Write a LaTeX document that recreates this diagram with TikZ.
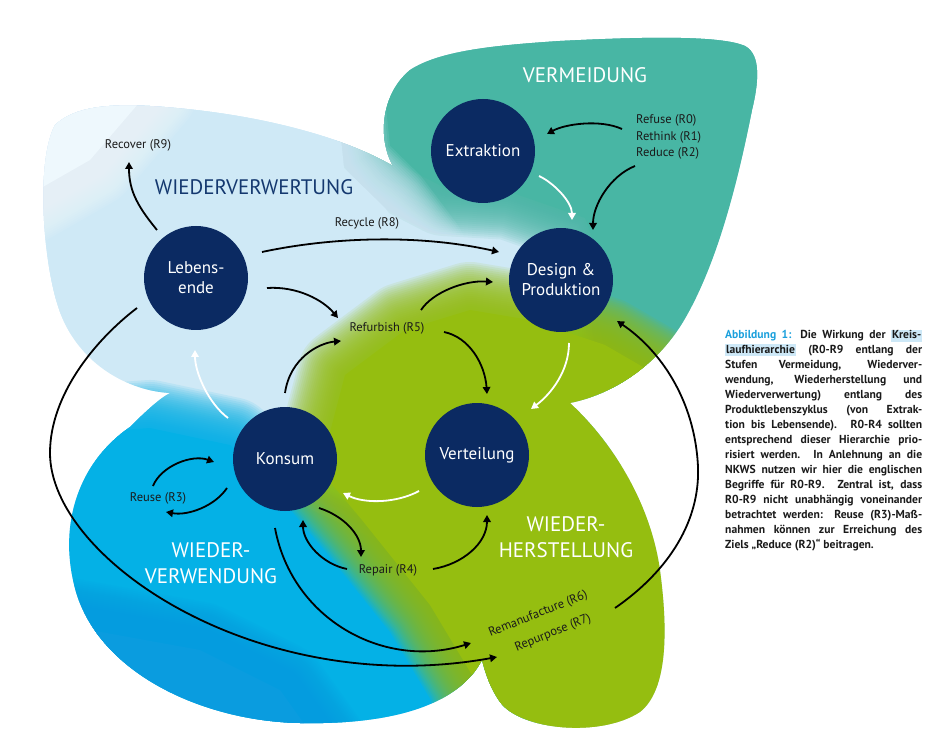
\documentclass[tikz,border=0pt]{standalone}
\usepackage{fontspec}
\setmainfont{PT Sans}
\newfontfamily\capfont{PT Sans}
\usetikzlibrary{arrows.meta,calc}
\definecolor{navy}{HTML}{0B2A62}
\definecolor{teal1}{HTML}{48B6A4}
\definecolor{lblue}{HTML}{CFE9F6}
\definecolor{wblue}{HTML}{EEF8FD}
\definecolor{cblue}{HTML}{04B1E6}
\definecolor{dblue}{HTML}{0A9CDF}
\definecolor{lgreen}{HTML}{95BE10}
\definecolor{capblue}{HTML}{1BA0DC}
\definecolor{hlblue}{HTML}{CDE8F7}
\definecolor{regnavy}{HTML}{14386F}
\definecolor{txt}{HTML}{1A1A1A}
\newcommand\unionpath{(55,125) .. controls (75,106) and (110,104) .. (150,106)
 .. controls (250,112) and (340,135) .. (393,166)
 .. controls (378,140) and (380,95) .. (410,70)
 .. controls (440,50) and (500,45) .. (560,41)
 .. controls (640,37) and (720,35) .. (745,46)
 .. controls (762,55) and (758,85) .. (752,110)
 .. controls (740,170) and (720,260) .. (683,322)
 .. controls (655,368) and (610,395) .. (570,403)
 .. controls (610,440) and (650,500) .. (660,570)
 .. controls (668,630) and (668,690) .. (640,712)
 .. controls (600,738) and (520,730) .. (500,702)
 .. controls (490,688) and (485,672) .. (482,660)
 .. controls (460,702) and (400,725) .. (300,723)
 .. controls (200,721) and (100,672) .. (76,592)
 .. controls (58,530) and (75,465) .. (130,427)
 .. controls (145,412) and (160,398) .. (170,393)
 .. controls (130,391) and (80,366) .. (60,312)
 .. controls (42,262) and (36,160) .. (55,125) -- cycle}
\newcommand\softfill[2]{%
  \foreach \w in {96,92,...,4}{\draw[#1,opacity=0.1,line width=\w pt,line join=round] #2;}%
  \fill[#1] #2;}
\newcommand\hl[1]{{\setlength\fboxsep{1pt}\colorbox{hlblue}{\rule[-1.5pt]{0pt}{10pt}#1}}}
\begin{document}
\begin{tikzpicture}[x=1pt,y=-1pt,
  circ/.style={circle,fill=navy,minimum size=104pt,inner sep=0pt,text=white,
    font=\fontsize{17}{20}\selectfont,align=center},
  lbl/.style={font=\fontsize{12.5}{15}\selectfont,text=txt,inner sep=0pt},
  regionlbl/.style={font=\fontsize{21}{26}\selectfont,inner sep=0pt,align=center},
  arr/.style={line width=1.8pt,-{Triangle[length=7pt,width=7.5pt]}},
  warr/.style={arr,white}]
\useasboundingbox (0,0) rectangle (948,735);
% background blobs
\begin{scope}
\clip \unionpath;
\fill[lblue] (0,0) rectangle (948,735);
\softfill{teal1}{(370,20) -- (780,20) -- (780,450) -- (620,420) -- (600,330) -- (600,260) -- (585,218) -- (510,192) -- (445,188) -- (395,162) -- (383,140) -- cycle}
\softfill{lblue}{(-10,90) -- (336,90) -- (344,168) -- (385,208) -- (418,252) -- (330,300) -- (-10,300) -- cycle}
\softfill{wblue}{(20,90) -- (150,90) -- (90,160) -- (20,200) -- cycle}
\softfill{cblue}{(-20,440) -- (150,428) -- (230,445) -- (290,500) -- (420,560) -- (520,760) -- (-20,760) -- cycle}
\softfill{dblue}{(-20,610) -- (200,650) -- (280,690) -- (330,760) -- (-20,760) -- cycle}
\softfill{lgreen}{(345,375) -- (405,330) -- (470,310) -- (530,320) -- (605,345) -- (700,400) -- (720,760) -- (495,760) -- (475,680) -- (430,605) -- (362,520) -- (320,470) -- cycle}
\end{scope}
% region labels
\node[regionlbl,text=white] (vm) at (585,75) {VERMEIDUNG};
\node[regionlbl,text=regnavy] (wvw) at (254,187) {WIEDERVERWERTUNG};
\node[regionlbl,text=white] (wvd) at (211,563) {WIEDER-\\VERWENDUNG};
\node[regionlbl,text=white] (whs) at (566,537) {WIEDER-\\HERSTELLUNG};
% stages
\node[circ] (ext) at (483,151) {Extraktion};
\node[circ] (des) at (561,280) {Design \&\\Produktion};
\node[circ] (ver) at (477,455) {Verteilung};
\node[circ] (kon) at (285,459) {Konsum};
\node[circ] (leb) at (196,278) {Lebens-\\ende};
% R labels
\node[lbl] (rec9) at (138,145) {Recover (R9)};
\node[lbl] (rcy) at (367,223) {Recycle (R8)};
\node[lbl] (rfb) at (387,328) {Refurbish (R5)};
\node[lbl,align=left,anchor=west,font=\fontsize{12.5}{16.5}\selectfont] (rrr) at (636,137) {Refuse (R0)\\Rethink (R1)\\Reduce (R2)};
\node[lbl] (reu) at (158,498) {Reuse (R3)};
\node[lbl] (rep) at (388,570) {Repair (R4)};
\node[lbl,rotate=22,align=left,font=\fontsize{12.5}{23}\selectfont] (rr67) at (542.5,625) {Remanufacture (R6)\\\hspace*{19pt}Repurpose (R7)};
% black arrows
\draw[arr] ($(leb)+(-39,-48)$) .. controls +(-18,-22) and +(0,30) .. ($(rec9)+(-9,17)$);
\draw[arr] ($(leb)+(66,-26)$) .. controls +(70,-15) and +(-80,-18) .. ($(des)+(-62,-28)$);
\draw[arr] ($(leb)+(71,10)$) .. controls +(30,-2) and +(-15,-18) .. ($(rfb)+(-49,-10)$);
\draw[arr] ($(rfb)+(34,-18)$) .. controls +(12,-18) and +(-28,-2) .. ($(des)+(-68,2)$);
\draw[arr] ($(rfb)+(57,4)$) .. controls +(25,5) and +(-2,-30) .. ($(ver)+(10,-61)$);
\draw[arr] ($(kon)+(0,-66)$) .. controls +(5,-35) and +(-22,2) .. ($(rfb)+(-46,13)$);
\draw[arr] ($(rrr.west)+(-14,-8)$) .. controls +(-22,-10) and +(18,-10) .. ($(ext)+(64,-17)$);
\draw[arr] ($(rrr.west)+(-1,29)$) .. controls +(-25,10) and +(0,-25) .. ($(des)+(32,-50)$);
\draw[arr] ($(reu)+(-5,-12)$) .. controls +(8,-20) and +(-22,-8) .. ($(kon)+(-71,3)$);
\draw[arr] ($(kon)+(-58,29)$) .. controls +(-12,18) and +(22,4) .. ($(reu)+(8,14)$);
\draw[arr] ($(kon)+(34,49)$) .. controls +(25,8) and +(0,-22) .. ($(rep)+(-27,-13)$);
\draw[arr] ($(rep)+(-41,-1)$) .. controls +(-25,-5) and +(0,22) .. ($(kon)+(18,61)$);
\draw[arr] ($(rep)+(45,-1)$) .. controls +(30,-5) and +(0,28) .. ($(ver)+(10,60)$);
\draw[arr] ($(kon)+(-10,69)$) .. controls +(17,92) and +(-86,27) .. ($(rr67)+(-71.5,18)$);
\draw[arr] ($(leb)+(-59,30)$) .. controls +(-42,32) and (50,395) .. (50,453)
  .. controls (50,560) and (260,700) .. ($(rr67)+(-45.5,32)$);
\draw[arr] ($(rr67)+(72.5,-17)$) .. controls (670,570) and (700,520) .. (698,467)
  .. controls (695,400) and (660,350) .. ($(des)+(56,41)$);
% white arrows
\draw[warr] ($(ext)+(56,25)$) .. controls +(15,7) and +(0,-18) .. ($(des)+(11,-60)$);
\draw[warr] ($(des)+(8,63)$) .. controls +(0,28) and +(20,-15) .. ($(ver)+(54,-46)$);
\draw[warr] ($(ver)+(-58,36)$) .. controls +(-22,12) and +(22,11) .. ($(kon)+(58,34)$);
\draw[warr] ($(kon)+(-57,-41)$) .. controls +(-20,-15) and +(0,22) .. ($(leb)+(-1,72)$);
% caption
\node[anchor=base west,inner sep=0pt,text=txt] (cap) at (725,339) {\parbox[t]{197pt}{\capfont\bfseries\fontsize{11.6}{14.93}\selectfont
\makebox[197pt][s]{\textcolor{capblue}{Abbildung 1:} Die Wirkung der \hl{Kreis-}}\\
\makebox[197pt][s]{\hl{laufhierarchie} (R0-R9 entlang der}\\
\makebox[197pt][s]{Stufen Vermeidung, Wiederver-}\\
\makebox[197pt][s]{wendung, Wiederherstellung und}\\
\makebox[197pt][s]{Wiederverwertung) entlang des}\\
\makebox[197pt][s]{Produktlebenszyklus (von Extrak-}\\
\makebox[197pt][s]{tion bis Lebensende). R0-R4 sollten}\\
\makebox[197pt][s]{entsprechend dieser Hierarchie prio-}\\
\makebox[197pt][s]{risiert werden. In Anlehnung an die}\\
\makebox[197pt][s]{NKWS nutzen wir hier die englischen}\\
\makebox[197pt][s]{Begriffe für R0-R9. Zentral ist, dass}\\
\makebox[197pt][s]{R0-R9 nicht unabhängig voneinander}\\
\makebox[197pt][s]{betrachtet werden: Reuse (R3)-Maß-}\\
\makebox[197pt][s]{nahmen können zur Erreichung des}\\
Ziels „Reduce (R2)“ beitragen.}};
\end{tikzpicture}
\end{document}
